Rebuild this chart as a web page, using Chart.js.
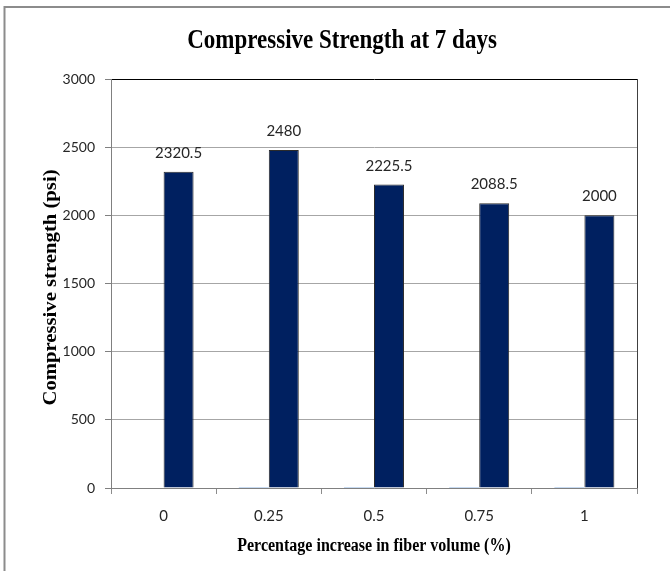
<!DOCTYPE html>
<html>
<head>
<meta charset="utf-8">
<script src="https://cdn.jsdelivr.net/npm/chart.js@4.4.1/dist/chart.umd.min.js"></script>
<style>
  html, body { margin: 0; padding: 0; background: #ffffff; }
  #wrap { width: 670px; height: 571px; }
</style>
</head>
<body>
<div id="wrap"><canvas id="chart" width="670" height="571"></canvas></div>
<script>
// Fiber volume steps on the x axis
const categories = ['0', '0.25', '0.5', '0.75', '1'];
// Companion series that sits at zero (only a sliver at the baseline shows)
const baseSeries = [null, 0, 0, 0, 0];
// Compressive strength after 7 days, psi
const strength7d = [2320.5, 2480, 2225.5, 2088.5, 2000];
// Value axis range and step
const yMin = 0;
const yMax = 3000;
const yStep = 500;

const chartTitle = 'Compressive Strength at 7 days';
const xTitle = 'Percentage increase in fiber volume (%)';
const yTitle = 'Compressive strength (psi)';

const SERIF = '"Liberation Serif", "Times New Roman", serif';
const SANS = 'Lato, "Open Sans", sans-serif';
const STRETCH = 1.23; // tall, narrow look of the serif headings

// Frame, chart heading and axis headings
const decorPlugin = {
  id: 'decor',
  beforeDraw(chart) {
    const ctx = chart.ctx;
    ctx.save();
    ctx.fillStyle = '#ffffff';
    ctx.fillRect(0, 0, chart.width, chart.height);
    ctx.strokeStyle = '#8c8c8c';
    ctx.lineWidth = 2;
    ctx.beginPath();
    ctx.moveTo(4.5, chart.height);
    ctx.lineTo(4.5, 7);
    ctx.lineTo(chart.width, 7);
    ctx.stroke();
    ctx.restore();
  },
  afterDraw(chart) {
    const ctx = chart.ctx;
    const area = chart.chartArea;
    ctx.save();
    ctx.fillStyle = '#000000';
    ctx.textAlign = 'center';
    ctx.textBaseline = 'alphabetic';

    // chart heading
    ctx.save();
    ctx.translate(342, 48);
    ctx.scale(1, STRETCH);
    ctx.font = 'bold 23px ' + SERIF;
    ctx.fillText(chartTitle, 0, 0);
    ctx.restore();

    // x axis heading
    ctx.save();
    ctx.translate((area.left + area.right) / 2, 551);
    ctx.scale(1, STRETCH);
    ctx.font = 'bold 16px ' + SERIF;
    ctx.fillText(xTitle, 0, 0);
    ctx.restore();

    // y axis heading
    ctx.save();
    ctx.translate(56, (area.top + area.bottom) / 2 + 4);
    ctx.rotate(-Math.PI / 2);
    ctx.scale(1.15, 1);
    ctx.font = 'bold 18px ' + SERIF;
    ctx.fillText(yTitle, 0, 0);
    ctx.restore();

    ctx.restore();
  }
};

// Right edge of the plot frame
const frameEdgePlugin = {
  id: 'frameEdge',
  beforeDatasetsDraw(chart) {
    const ctx = chart.ctx;
    const a = chart.chartArea;
    ctx.save();
    ctx.strokeStyle = '#404040';
    ctx.lineWidth = 1;
    ctx.beginPath();
    ctx.moveTo(Math.round(a.right) + 0.5, a.top);
    ctx.lineTo(Math.round(a.right) + 0.5, a.bottom);
    ctx.stroke();
    ctx.restore();
  }
};

// Value printed above every strength bar
const valueLabelPlugin = {
  id: 'valueLabels',
  afterDatasetsDraw(chart) {
    const ctx = chart.ctx;
    const meta = chart.getDatasetMeta(1);
    ctx.save();
    ctx.font = '15px ' + SANS;
    ctx.fillStyle = '#262626';
    ctx.textAlign = 'center';
    ctx.textBaseline = 'alphabetic';
    meta.data.forEach((bar, i) => {
      ctx.fillText(String(strength7d[i]), bar.x, bar.y - 14);
    });
    ctx.restore();
  }
};

new Chart(document.getElementById('chart'), {
  type: 'bar',
  data: {
    labels: categories,
    datasets: [
      {
        label: 'Base',
        data: baseSeries,
        backgroundColor: '#8eb4e3',
        borderWidth: 0,
        minBarLength: 1
      },
      {
        label: '7 days',
        data: strength7d,
        backgroundColor: '#002060',
        borderColor: '#2b2b2b',
        borderWidth: 1
      }
    ]
  },
  options: {
    responsive: false,
    animation: false,
    events: [],
    datasets: {
      bar: { categoryPercentage: 0.57, barPercentage: 1.0 }
    },
    layout: { padding: { left: 0, right: 33, top: 79, bottom: 0 } },
    plugins: {
      legend: { display: false },
      title: { display: false },
      tooltip: { enabled: false }
    },
    scales: {
      x: {
        offset: true,
        grid: {
          display: true,
          offset: true,
          drawOnChartArea: false,
          drawTicks: true,
          tickLength: 6,
          color: '#8c8c8c',
          lineWidth: 1
        },
        border: { display: true, color: '#808080', width: 1 },
        ticks: {
          font: { family: SANS, size: 15 },
          color: '#262626',
          padding: 13,
          maxRotation: 0
        },
        afterFit(scale) { scale.height = 83; }
      },
      y: {
        min: yMin,
        max: yMax,
        grid: {
          color: (c) => (c.tick && c.tick.value === yMax ? '#000000' : '#a6a6a6'),
          tickColor: '#808080',
          tickLength: 6,
          lineWidth: 1
        },
        border: { display: true, color: '#808080', width: 1 },
        ticks: {
          stepSize: yStep,
          font: { family: SANS, size: 14 },
          color: '#262626',
          padding: 10,
          callback: (value) => String(value)
        },
        afterFit(scale) { scale.width = 111; }
      }
    }
  },
  plugins: [decorPlugin, frameEdgePlugin, valueLabelPlugin]
});
</script>
</body>
</html>
